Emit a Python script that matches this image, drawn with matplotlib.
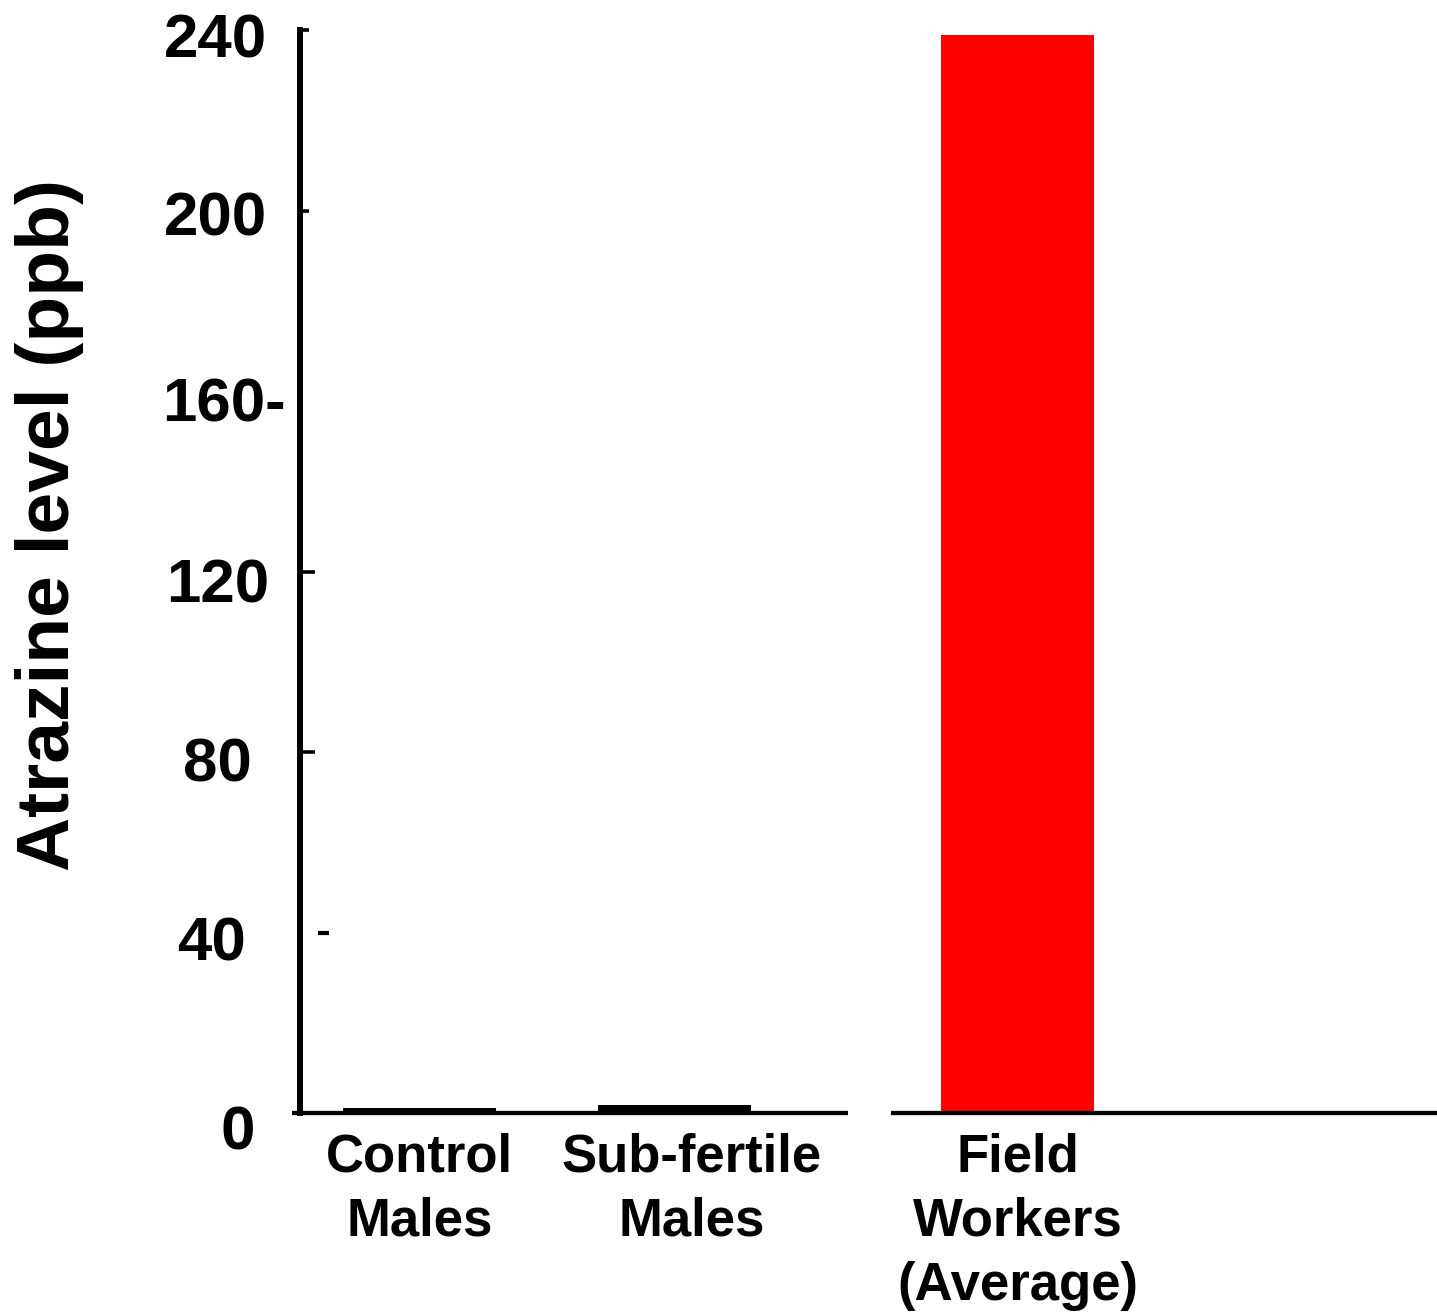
import matplotlib
matplotlib.use("Agg")
import matplotlib.pyplot as plt
from matplotlib.transforms import ScaledTranslation

# ── data ────────────────────────────────────────────────────────────────
groups      = ["Control\nMales", "Sub-fertile\nMales", "Field\nWorkers\n(Average)"]
atrazine    = [1.0, 1.8, 239.0]
bar_colors  = ["black", "black", "#FF0000"]
ytick_vals  = [240, 200, 160, 120, 80, 40, 0]
ytick_text  = ["240", "200", "160-", "120", "80", "40", "0"]

plt.rcParams["font.family"] = ["Liberation Sans", "DejaVu Sans"]
plt.rcParams["font.weight"] = "bold"

DPI = 100
fig = plt.figure(figsize=(14.37, 13.12), dpi=DPI)
ax = fig.add_axes([300 / 1437, 199 / 1312, 1137 / 1437, 1083 / 1312])

# third bar sits further right, after the break in the baseline
xpos = [0, 1, 2.345]
ax.bar(xpos, atrazine, width=0.6, color=bar_colors, zorder=2)

ax.set_xlim(-0.47, 3.988)
ax.set_ylim(0, 240)

for side in ["top", "right", "bottom"]:
    ax.spines[side].set_visible(False)
ax.spines["left"].set_linewidth(4.3)
ax.spines["left"].set_capstyle("projecting")

# broken baseline
base_kw = dict(color="black", lw=3.1, solid_capstyle="butt", clip_on=False, zorder=3)
ax.plot([-0.50, 1.678], [0, 0], **base_kw)
ax.plot([1.847, 4.0], [0, 0], **base_kw)

# y ticks: inward marks only on some values, labels placed by hand
ax.set_yticks([120, 80])
ax.set_yticks([240, 200], minor=True)
ax.tick_params(axis="y", which="major", direction="in", length=10.5, width=2.6, labelleft=False)
ax.tick_params(axis="y", which="minor", direction="in", length=6.5, width=2.6, labelleft=False)

# loose dash beside the spine at 40
ax.plot([0.0155, 0.0255], [40, 40], color="black", lw=3.0, solid_capstyle="butt",
        transform=ax.get_yaxis_transform(), clip_on=False)

label_x  = [215, 215, 224, 218, 217, 211, 238]      # label centres, px
label_dy = [27, 25, 31, 31, 29, 28, 37]               # baseline below value, px
for v, t, lx, dy in zip(ytick_vals, ytick_text, label_x, label_dy):
    trans = ax.get_yaxis_transform() + ScaledTranslation(0, -dy / DPI, fig.dpi_scale_trans)
    ax.text((lx - 300) / 1137, v, t, transform=trans, ha="center", va="baseline",
            fontsize=44.5, fontweight="bold", clip_on=False)

# x tick labels
ax.set_xticks(xpos)
ax.set_xticklabels(groups, fontsize=38, fontweight="bold", linespacing=1.36)
ax.tick_params(axis="x", length=0, pad=14)
# the middle label sits a little right of its bar
lab_shift = [0, 17, 0]
for lab, dx in zip(ax.get_xticklabels(), lab_shift):
    lab.set_transform(lab.get_transform() + ScaledTranslation(dx / DPI, 0, fig.dpi_scale_trans))

fig.text(50 / 1437, 1 - 525 / 1312, "Atrazine level (ppb)", rotation=90,
         ha="center", va="center", fontsize=54, fontweight="bold")

fig.savefig("out.png", dpi=DPI, facecolor="white")
